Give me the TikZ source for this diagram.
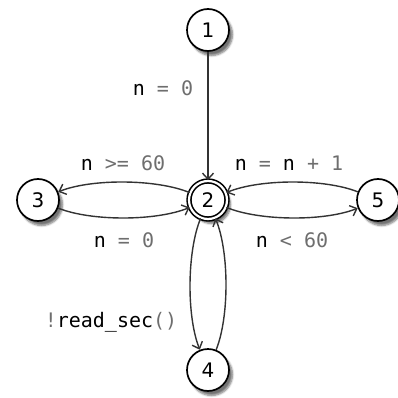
\documentclass[tikz,border=0pt]{standalone}
\usepackage{fontspec}
\setmainfont{DejaVu Sans}
\setmonofont{DejaVu Sans Mono}
\usetikzlibrary{arrows.meta,shadows.blur}
\definecolor{edgegray}{HTML}{333333}
\definecolor{opgray}{HTML}{6E6E6E}
\newcommand{\opx}[1]{\textcolor{opgray}{#1}}
\begin{document}
\begin{tikzpicture}[x=1pt,y=1pt,
  state/.style={circle, draw=black, line width=1.7pt, fill=white,
    minimum size=42pt, inner sep=0pt, font=\fontsize{20}{20}\selectfont,
    blur shadow={shadow xshift=3.5pt, shadow yshift=-4.5pt, shadow blur steps=6,
      shadow blur radius=2pt, shadow opacity=55}},
  accept/.style={state, double=white, double distance=2.2pt, line width=1.6pt,
    minimum size=38pt},
  conn/.style={draw=edgegray, line width=1.4pt,
    -{Straight Barb[length=6pt,width=11pt,line width=1.4pt]}},
  arc/.style={conn, bend right=22, looseness=0.7},
  lbl/.style={font=\ttfamily\fontsize{20}{20}\selectfont, inner sep=0pt, anchor=center}
]
\useasboundingbox (0,0) rectangle (398,-398);

% states
\node[state]  (n1) at (208,-30)  {1};
\node[accept] (n2) at (208,-200) {2};
\node[state]  (n3) at (38,-200)  {3};
\node[state]  (n5) at (378,-200) {5};
\node[state]  (n4) at (208,-370) {4};

% transitions
\draw[conn] (n1) -- (n2);
\draw[arc] (n2) to (n3);
\draw[arc] (n3) to (n2);
\draw[arc] (n5) to (n2);
\draw[arc] (n2) to (n5);
\draw[arc] (n2) to (n4);
\draw[arc] (n4) to (n2);

% guards and actions
\node[lbl] (t12) at (163,-88)  {n \opx{= 0}};
\node[lbl] (t23) at (123,-163) {n \opx{>= 60}};
\node[lbl] (t52) at (289,-163) {n \opx{=} n \opx{+ 1}};
\node[lbl] (t32) at (124,-240) {n \opx{= 0}};
\node[lbl] (t25) at (292,-240) {n \opx{< 60}};
\node[lbl] (t24) at (111,-322) {\opx{!}read\_sec\opx{()}};
\end{tikzpicture}
\end{document}
